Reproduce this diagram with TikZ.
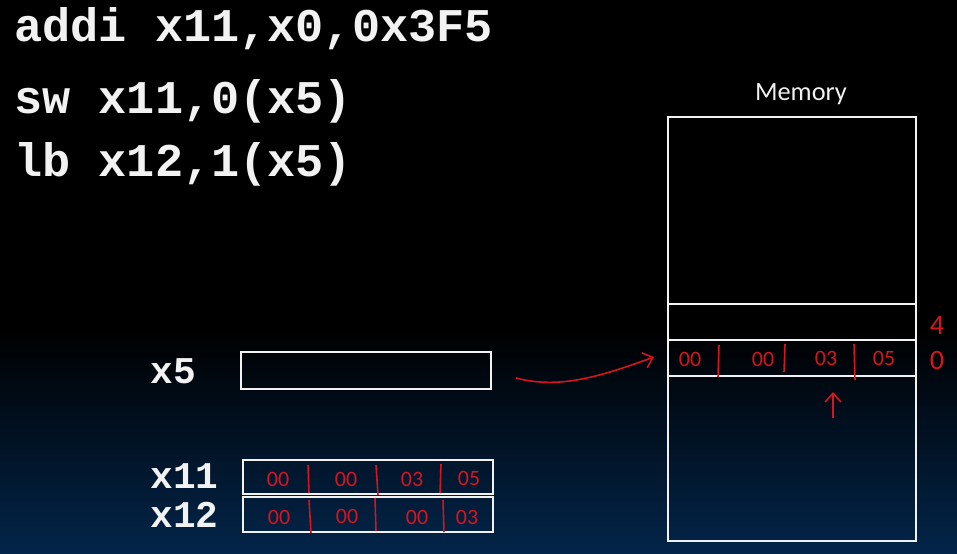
\documentclass[tikz,border=0pt]{standalone}
\usepackage{fontspec}
\usepackage{tikz}
\usepackage{xcolor}
\usetikzlibrary{arrows.meta, positioning, calc}
\setmainfont{Carlito}
\newfontfamily\codefont{Liberation Mono}
\definecolor{SlideBlack}{HTML}{000000}
\definecolor{SlideNavy}{HTML}{03254A}
\definecolor{SlideWhite}{HTML}{F2F2F2}
\definecolor{PenRed}{HTML}{D8141E}
\tikzset{
    % Code lines and register names
    code line/.style={
        anchor=base west,
        inner sep=0pt,
        text=SlideWhite,
        font=\codefont\bfseries\fontsize{26.7}{30}\selectfont
    },
    reg label/.style={
        anchor=base west,
        inner sep=0pt,
        text=SlideWhite,
        font=\codefont\bfseries\fontsize{21.5}{24}\selectfont
    },
    % White boxes with sharp corners
    reg box/.style={
        rectangle,
        draw=SlideWhite,
        line width=1.2pt,
        minimum width=5cm,
        inner sep=0pt
    },
    mem box/.style={
        rectangle,
        draw=SlideWhite,
        line width=1.2pt,
        minimum width=4.96cm,
        inner sep=0pt
    },
    % Handwritten notes
    pen byte/.style={
        text=PenRed,
        inner sep=0pt,
        font=\fontsize{12.5}{14}\selectfont
    },
    pen addr/.style={
        text=PenRed,
        inner sep=0pt,
        font=\fontsize{16}{18}\selectfont
    },
    pen bar/.style={
        PenRed,
        line width=0.9pt
    },
    pen arrow/.style={
        -{Straight Barb[length=5pt,width=9pt]},
        PenRed,
        line width=0.9pt
    }
}
\begin{document}
\begin{tikzpicture}[x=0.02cm, y=-0.02cm]
        % Background
        \useasboundingbox (0,0) rectangle (957,554);
        \fill[SlideBlack] (0,0) rectangle (957,554);
        \shade[top color=SlideBlack, bottom color=SlideNavy] (0,330) rectangle (957,554);

        % Instructions
        \node[code line] (i1) at (14,42) {addi x11,x0,0x3F5};
        \node[code line] (i2) at (14,113) {sw x11,0(x5)};
        \node[code line] (i3) at (14,176) {lb x12,1(x5)};

        % Registers
        \node[reg box, minimum height=0.74cm] (x5) at (366,370.5) {};
        \node[reg box, minimum height=0.68cm] (x11) at (368,477) {};
        \node[reg box, minimum height=0.70cm] (x12) at (368,514.5) {};
        \node[reg label] (x5lbl) at (150,383) {x5};
        \node[reg label] (x11lbl) at (150,488) {x11};
        \node[reg label] (x12lbl) at (150,527) {x12};

        % Memory
        \node[mem box, minimum height=8.48cm] (mem) at (792,329) {};
        \node[mem box, minimum height=0.72cm] (row4) at (792,322) {};
        \node[mem box, minimum height=0.72cm] (row0) at (792,358) {};
        \node[text=SlideWhite, font=\fontsize{15}{17}\selectfont] (memlbl) at (801,94) {Memory};

        % Bytes stored at address 0
        \node[pen byte] (m3) at (690,359) {00};
        \node[pen byte] (m2) at (763,359) {00};
        \node[pen byte] (m1) at (826,358) {03};
        \node[pen byte] (m0) at (884,358) {05};
        \draw[pen bar] (719,345) -- (718,377);
        \draw[pen bar] (785,344) -- (784,372);
        \draw[pen bar] (854,344) -- (855,380);
        \node[pen addr] (a4) at (937,325) {4};
        \node[pen addr] (a0) at (937,360) {0};

        % Bytes in x11
        \node[pen byte] (r3) at (278,479) {00};
        \node[pen byte] (r2) at (346,479) {00};
        \node[pen byte] (r1) at (412,479) {03};
        \node[pen byte] (r0) at (469,478) {05};
        \draw[pen bar] (308,465) -- (309,493);
        \draw[pen bar] (376,465) -- (378,495);
        \draw[pen bar] (441,464) -- (440,493);

        % Bytes in x12
        \node[pen byte] (s3) at (279,517) {00};
        \node[pen byte] (s2) at (347,516) {00};
        \node[pen byte] (s1) at (417,517) {00};
        \node[pen byte] (s0) at (467,517) {03};
        \draw[pen bar] (309,500) -- (311,533);
        \draw[pen bar] (375,498) -- (376,531);
        \draw[pen bar] (443,500) -- (444,532);

        % Arrows
        \draw[pen arrow] ([shift={(24,7.5)}]x5.east) .. controls +(45,12) and +(-50,18) .. ([shift={(-13,-1)}]row0.west);
        \coordinate (ptr) at (833,418);
        \draw[pen arrow] (ptr) -- ([shift={(41,15)}]row0.south);
    \end{tikzpicture}
\end{document}
